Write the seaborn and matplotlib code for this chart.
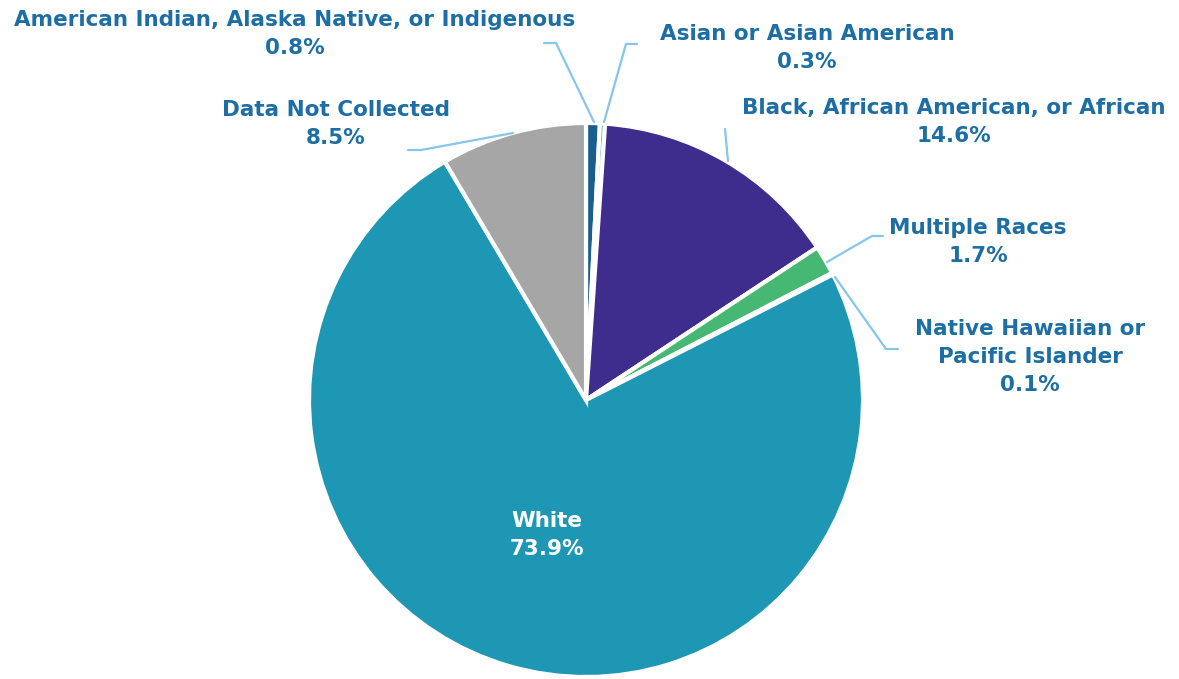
import matplotlib
matplotlib.use("Agg")
import matplotlib.pyplot as plt
import seaborn as sns

sns.set_theme(style="white")
plt.rcParams['font.family'] = ['DejaVu Sans']

# Share of records by race
categories = [
    "American Indian, Alaska Native, or Indigenous",
    "Asian or Asian American",
    "Black, African American, or African",
    "Multiple Races",
    "Native Hawaiian or\nPacific Islander",
    "White",
    "Data Not Collected",
]
shares = [0.8, 0.3, 14.6, 1.7, 0.1, 73.9, 8.5]
colors = ["#1a5e8c", "#45b48a", "#3e2d8c", "#47b873", "#6fc7d8", "#1d97b4", "#a6a6a6"]

W, H = 1179, 679
fig = plt.figure(figsize=(W / 100, H / 100), dpi=100)
ax = fig.add_axes([0, 0, 1, 1])

# work in pixel-like units, y measured from the top
def P(x, y):
    return x, H - y

cx, cy = P(586, 400)
ax.pie(shares, colors=colors, startangle=90, counterclock=False,
       center=(cx, cy), radius=277,
       wedgeprops=dict(edgecolor="white", linewidth=3))
ax.set_xlim(0, W)
ax.set_ylim(0, H)
ax.set_aspect("equal")
ax.axis("off")

label_color = "#1c6ea4"
line_color = "#86c5ee"
fs = 15.5
ls = 1.5

# label anchor (centre of text block) and leader line path per slice
label_pos = {
    0: (295, 34),
    1: (807, 48),
    2: (954, 122),
    3: (978, 242),
    4: (1030, 357),
    6: (336, 124),
}
leaders = {
    0: [(594, 122), (556, 43), (544, 43)],
    1: [(604, 122), (626, 44), (637, 44)],
    2: [(728, 161), (725, 129)],
    3: [(827, 262), (872, 236), (883, 236)],
    4: [(835, 277), (886, 349), (898, 349)],
    6: [(513, 133), (421, 150), (408, 150)],
}

for i, (x, y) in label_pos.items():
    ax.text(*P(x, y), f"{categories[i]}\n{shares[i]:.1f}%", ha="center", va="center",
            color=label_color, fontsize=fs, fontweight="bold", linespacing=ls)
    pts = [P(px, py) for px, py in leaders[i]]
    ax.plot([p[0] for p in pts], [p[1] for p in pts], color=line_color, lw=1.6,
            solid_joinstyle="miter")

ax.text(*P(547, 535), f"{categories[5]}\n{shares[5]:.1f}%", ha="center", va="center",
        color="white", fontsize=fs, fontweight="bold", linespacing=ls)

fig.savefig("out.png", dpi=100, facecolor="white")
